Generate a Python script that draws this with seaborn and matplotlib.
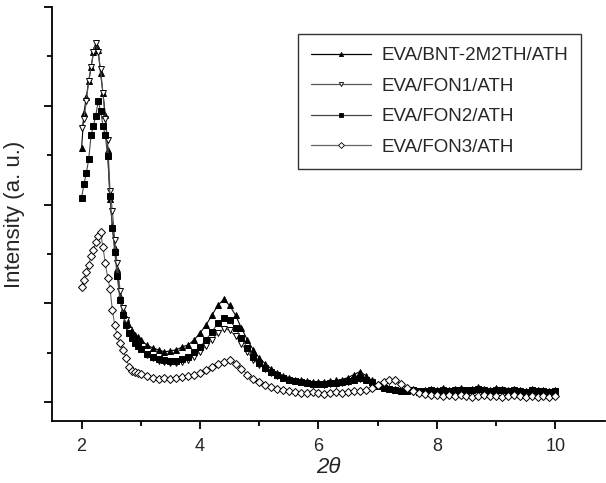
import matplotlib
matplotlib.use("Agg")
import matplotlib.pyplot as plt
import seaborn as sns
from matplotlib.lines import Line2D
from matplotlib.ticker import MultipleLocator

two_theta = [2.00, 2.04, 2.08, 2.12, 2.16, 2.20, 2.24, 2.28, 2.32, 2.36, 2.40, 2.44,
             2.48, 2.52, 2.56, 2.60, 2.65, 2.70, 2.75, 2.80, 2.85, 2.90, 2.95, 3.00,
             3.1, 3.2, 3.3, 3.4, 3.5, 3.6, 3.7, 3.8, 3.9,
             4.0, 4.1, 4.2, 4.3, 4.4, 4.5, 4.6, 4.7, 4.8, 4.9,
             5.0, 5.1, 5.2, 5.3, 5.4, 5.5, 5.6, 5.7, 5.8, 5.9,
             6.0, 6.1, 6.2, 6.3, 6.4, 6.5, 6.6, 6.7, 6.8, 6.9,
             7.0, 7.1, 7.2, 7.3, 7.4, 7.5, 7.6, 7.7, 7.8, 7.9,
             8.0, 8.1, 8.2, 8.3, 8.4, 8.5, 8.6, 8.7, 8.8, 8.9,
             9.0, 9.1, 9.2, 9.3, 9.4, 9.5, 9.6, 9.7, 9.8, 9.9, 10.0]

bnt = [2.57, 2.93, 3.09, 3.25, 3.39, 3.54, 3.62, 3.56, 3.33, 3.13, 2.91, 2.55,
       2.06, 1.78, 1.56, 1.35, 1.08, 0.93, 0.85, 0.77, 0.72, 0.68, 0.66, 0.63,
       0.58, 0.55, 0.53, 0.51, 0.52, 0.53, 0.56, 0.58, 0.63,
       0.70, 0.78, 0.88, 0.98, 1.04, 0.98, 0.88, 0.75, 0.63, 0.53,
       0.45, 0.39, 0.34, 0.30, 0.27, 0.25, 0.23, 0.22, 0.21, 0.20,
       0.20, 0.20, 0.21, 0.22, 0.23, 0.25, 0.28, 0.31, 0.27, 0.22,
       0.18, 0.16, 0.14, 0.13, 0.12, 0.12, 0.13, 0.11, 0.12, 0.13,
       0.12, 0.14, 0.12, 0.13, 0.14, 0.12, 0.13, 0.15, 0.13, 0.12,
       0.14, 0.13, 0.12, 0.13, 0.12, 0.11, 0.13, 0.12, 0.12, 0.11, 0.12]

fon1 = [2.78, 2.87, 3.05, 3.25, 3.39, 3.54, 3.64, 3.54, 3.37, 3.13, 2.87, 2.65,
        2.14, 1.94, 1.64, 1.41, 1.13, 0.95, 0.83, 0.73, 0.66, 0.61, 0.57, 0.54,
        0.48, 0.45, 0.42, 0.41, 0.40, 0.40, 0.41, 0.43, 0.46,
        0.51, 0.57, 0.63, 0.70, 0.74, 0.73, 0.67, 0.59, 0.51, 0.43,
        0.38, 0.34, 0.30, 0.27, 0.25, 0.23, 0.21, 0.20, 0.19, 0.18,
        0.18, 0.17, 0.18, 0.18, 0.19, 0.20, 0.22, 0.24, 0.22, 0.19,
        0.16, 0.14, 0.13, 0.12, 0.11, 0.11, 0.10, 0.11, 0.10, 0.11,
        0.10, 0.11, 0.11, 0.10, 0.11, 0.12, 0.11, 0.12, 0.11, 0.10,
        0.11, 0.11, 0.10, 0.11, 0.10, 0.10, 0.11, 0.10, 0.10, 0.10, 0.10]

fon2 = [2.07, 2.21, 2.32, 2.46, 2.70, 2.80, 2.90, 3.05, 2.95, 2.80, 2.70, 2.49,
        2.09, 1.76, 1.52, 1.28, 1.03, 0.88, 0.78, 0.70, 0.65, 0.60, 0.57, 0.54,
        0.49, 0.46, 0.44, 0.43, 0.42, 0.42, 0.44, 0.46, 0.51,
        0.56, 0.63, 0.71, 0.80, 0.85, 0.83, 0.75, 0.65, 0.55, 0.46,
        0.40, 0.35, 0.31, 0.28, 0.25, 0.23, 0.21, 0.20, 0.19, 0.18,
        0.18, 0.18, 0.19, 0.19, 0.20, 0.21, 0.23, 0.25, 0.23, 0.20,
        0.16, 0.14, 0.13, 0.12, 0.11, 0.11, 0.12, 0.10, 0.11, 0.12,
        0.11, 0.12, 0.11, 0.12, 0.12, 0.11, 0.12, 0.13, 0.12, 0.11,
        0.12, 0.12, 0.11, 0.12, 0.11, 0.10, 0.12, 0.11, 0.11, 0.10, 0.11]

fon3 = [1.17, 1.24, 1.32, 1.39, 1.48, 1.54, 1.62, 1.68, 1.72, 1.57, 1.41, 1.26,
        1.15, 0.93, 0.78, 0.68, 0.60, 0.53, 0.45, 0.36, 0.32, 0.31, 0.30, 0.29,
        0.27, 0.25, 0.24, 0.25, 0.24, 0.25, 0.26, 0.27, 0.28,
        0.30, 0.33, 0.36, 0.39, 0.41, 0.43, 0.39, 0.34, 0.28, 0.24,
        0.20, 0.17, 0.15, 0.13, 0.12, 0.11, 0.10, 0.09, 0.09, 0.10,
        0.09, 0.08, 0.09, 0.10, 0.09, 0.10, 0.11, 0.11, 0.12, 0.14,
        0.17, 0.20, 0.23, 0.22, 0.18, 0.14, 0.11, 0.09, 0.08, 0.07,
        0.07, 0.06, 0.07, 0.06, 0.07, 0.06, 0.05, 0.06, 0.07, 0.06,
        0.06, 0.05, 0.06, 0.07, 0.06, 0.05, 0.06, 0.05, 0.06, 0.05, 0.06]

labels = ["EVA/BNT-2M2TH/ATH", "EVA/FON1/ATH", "EVA/FON2/ATH", "EVA/FON3/ATH"]
series = [bnt, fon1, fon2, fon3]
markers = ["^", "v", "s", "D"]
faces = ["black", "white", "black", "white"]
line_colors = ["black", "#555555", "#444444", "#666666"]

sns.set_style("ticks")
plt.rcParams["font.family"] = ["Liberation Sans", "DejaVu Sans"]

fig = plt.figure(figsize=(6.06, 4.83), dpi=100)
ax = fig.add_axes([52 / 606, 62 / 483, 553 / 606, 414 / 483])

for ys, lab, mk, fc, lc in zip(series, labels, markers, faces, line_colors):
    sns.lineplot(x=two_theta, y=ys, ax=ax, color=lc, linewidth=0.8,
                 marker=mk, markersize=5 if mk != "D" else 4.2,
                 markerfacecolor=fc, markeredgecolor="black",
                 markeredgewidth=0.7, label=lab, legend=False, sort=False)

ax.set_xlim(1.5, 10.84)
ax.set_ylim(-0.19, 4.0)
ax.xaxis.set_major_locator(MultipleLocator(2))
ax.xaxis.set_minor_locator(MultipleLocator(1))
ax.yaxis.set_major_locator(MultipleLocator(1))
ax.yaxis.set_minor_locator(MultipleLocator(0.5))
ax.set_yticklabels([])
ax.tick_params(axis="both", which="major", direction="out", length=6, width=1.3,
               labelsize=13, color="black", pad=6)
ax.tick_params(axis="both", which="minor", direction="out", length=3.5, width=1.3,
               color="black")
for side in ["top", "right"]:
    ax.spines[side].set_visible(False)
for side in ["left", "bottom"]:
    ax.spines[side].set_linewidth(1.3)
    ax.spines[side].set_color("black")

ax.set_xlabel("2θ", fontsize=16, fontstyle="italic", labelpad=2)
ax.set_ylabel("Intensity (a. u.)", fontsize=16)
ax.yaxis.set_label_coords(-0.049, 0.5)

handles = [Line2D([], [], color=lc, linewidth=0.9, marker=mk, markersize=3,
                  markerfacecolor=fc, markeredgecolor="black", markeredgewidth=0.6)
           for mk, fc, lc in zip(markers, faces, line_colors)]
leg = ax.legend(handles, labels, loc="upper left", bbox_to_anchor=(0.445, 0.935),
                fontsize=13.5, frameon=True, fancybox=False, edgecolor="black",
                handlelength=3.2, handletextpad=0.55, labelspacing=0.72,
                borderpad=0.7, borderaxespad=0)
leg.get_frame().set_linewidth(1.0)

fig.savefig("out.png", dpi=100)
